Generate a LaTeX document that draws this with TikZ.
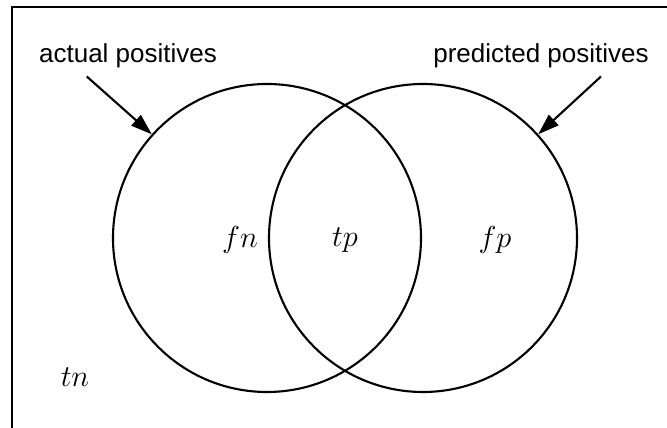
\documentclass[tikz,border=0pt]{standalone}
\usepackage{fontspec}
\setsansfont{Liberation Sans}
\usepackage{amsmath}
\usetikzlibrary{arrows.meta, positioning, calc}
\tikzstyle{arrow} = [line width=1.2pt,-{Triangle[length=12pt,width=8pt]}]
\tikzstyle{line} = [thick,-]

\begin{document}
\begin{tikzpicture}[
    x=0.02cm, y=-0.02cm,
    set/.style={circle, draw, line width=1.2pt, minimum size=308*0.02cm, inner sep=0pt},
    caption/.style={font=\sffamily\fontsize{14.8}{17}\selectfont, inner sep=0pt},
    region/.style={font=\fontsize{16}{19}\selectfont, inner sep=0pt}
]
    \useasboundingbox (0,0) rectangle (667,428);

    % Frame
    \draw[line width=1.3pt] (12,428) -- (12,7) -- (667,7);

    % Sets
    \node[set] (actual) at (267,238) {};
    \node[set] (predicted) at (423,238) {};

    % Region labels
    \node[region] (fn) at (240,240) {$fn$};
    \node[region] (tp) at (345,240) {$tp$};
    \node[region] (fp) at (495,240) {$fp$};
    \node[region] (tn) at (75,377) {$tn$};

    % Captions
    \node[caption] (acap) at (128,56) {actual positives};
    \node[caption] (pcap) at (541,56) {predicted positives};

    % Pointers
    \coordinate (atip) at (actual.138);
    \coordinate (ptip) at (predicted.42);
    \draw[arrow] ($(acap.south west)+(48,8)$) -- (atip);
    \draw[arrow] ($(pcap.south east)+(-48,8)$) -- (ptip);
\end{tikzpicture}
\end{document}
